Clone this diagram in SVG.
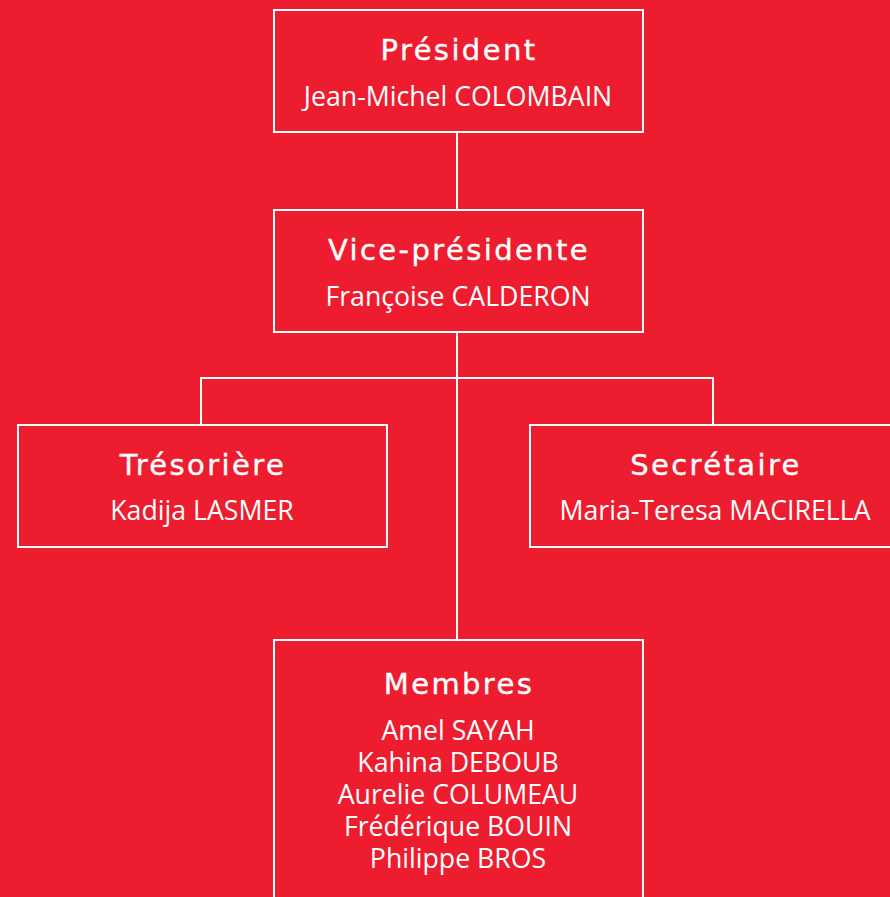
<svg xmlns="http://www.w3.org/2000/svg" width="890" height="897" viewBox="0 0 890 897">
<style>
.box{fill:#ED1C2E;stroke:#fff;stroke-width:2}
.t{font-family:"DejaVu Sans",sans-serif;font-size:29px;fill:#fff;text-anchor:middle;letter-spacing:2.4px;stroke:#fff;stroke-width:0.4}
.n{font-family:"Open Sans",sans-serif;font-size:26.7px;fill:#fff;text-anchor:middle}
.c{fill:none;stroke:#fff;stroke-width:2}
</style>
<rect width="890" height="897" fill="#ED1C2E"/>
<g id="connectors">
<line class="c" x1="457" y1="132" x2="457" y2="210"/>
<line class="c" x1="457" y1="332" x2="457" y2="640"/>
<polyline class="c" points="201,425 201,378 713,378 713,425"/>
</g>
<g id="president">
<rect class="box" x="274" y="10" width="369" height="122"/>
<text class="t" x="459" y="60">Président</text>
<text class="n" x="458" y="106">Jean-Michel COLOMBAIN</text>
</g>
<g id="vice-presidente">
<rect class="box" x="274" y="210" width="369" height="122"/>
<text class="t" x="459" y="260">Vice-présidente</text>
<text class="n" x="458" y="306">Françoise CALDERON</text>
</g>
<g id="tresoriere">
<rect class="box" x="18" y="425" width="369" height="122"/>
<text class="t" x="203" y="475">Trésorière</text>
<text class="n" x="202" y="520">Kadija LASMER</text>
</g>
<g id="secretaire">
<rect class="box" x="530" y="425" width="369" height="122"/>
<text class="t" x="716" y="475">Secrétaire</text>
<text class="n" x="715" y="520">Maria-Teresa MACIRELLA</text>
</g>
<g id="membres">
<rect class="box" x="274" y="640" width="369" height="270"/>
<text class="t" x="459" y="694">Membres</text>
<text class="n" x="458" y="740">Amel SAYAH</text>
<text class="n" x="458" y="772">Kahina DEBOUB</text>
<text class="n" x="458" y="804">Aurelie COLUMEAU</text>
<text class="n" x="458" y="836">Frédérique BOUIN</text>
<text class="n" x="458" y="868">Philippe BROS</text>
</g>
</svg>
